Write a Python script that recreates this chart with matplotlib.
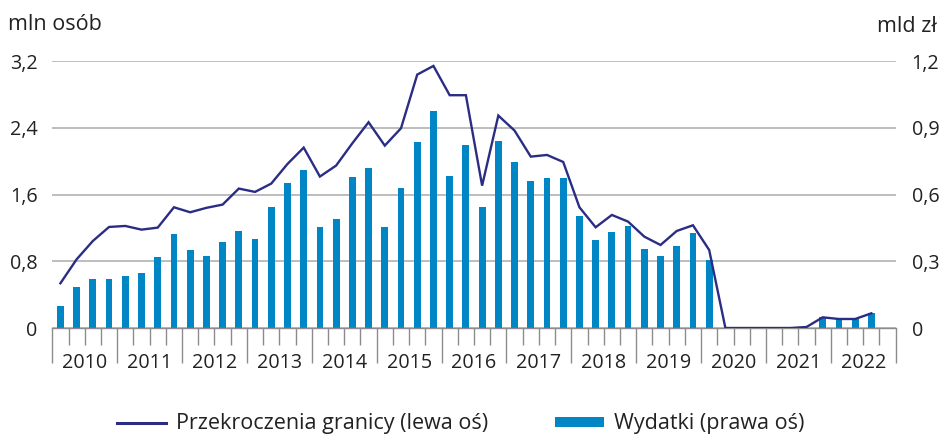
import numpy as np
import matplotlib.pyplot as plt
from matplotlib.lines import Line2D
from matplotlib.patches import Patch
from matplotlib.transforms import blended_transform_factory

plt.rcParams['font.family'] = ['Open Sans', 'DejaVu Sans']

years = [str(y) for y in range(2010, 2023)]

# quarterly, 2010 Q1 - 2022 Q3
crossings = [0.536, 0.823, 1.043, 1.211,
             1.223, 1.179, 1.203, 1.447,
             1.387, 1.440, 1.479, 1.671,
             1.631, 1.731, 1.966, 2.162,
             1.815, 1.947, 2.214, 2.466,
             2.186, 2.394, 3.037, 3.141,
             2.790, 2.790, 1.706, 2.546,
             2.366, 2.054, 2.074, 1.990,
             1.447, 1.207, 1.355, 1.275,
             1.095, 0.995, 1.163, 1.231,
             0.935, 0.0, 0.0, 0.0,
             0.0, 0.0, 0.012, 0.128,
             0.108, 0.108, 0.176]

spending = [0.099, 0.186, 0.219, 0.222,
            0.234, 0.246, 0.318, 0.421,
            0.349, 0.324, 0.385, 0.435,
            0.399, 0.542, 0.650, 0.710,
            0.452, 0.490, 0.680, 0.718,
            0.452, 0.631, 0.836, 0.975,
            0.685, 0.822, 0.545, 0.840,
            0.745, 0.661, 0.674, 0.674,
            0.502, 0.394, 0.431, 0.458,
            0.356, 0.324, 0.369, 0.428,
            0.306, 0.0, 0.0, 0.0,
            0.0, 0.0, 0.0, 0.048,
            0.040, 0.040, 0.066]

left_ticks = [0, 0.8, 1.6, 2.4, 3.2]
right_ticks = [0, 0.3, 0.6, 0.9, 1.2]

LINE_C = '#2b2d84'
BAR_C = '#0086c4'
GRID_C = '#ababab'
TXT = '#222222'
FS = 14.2
LEG_FS = 15.5

n_q = len(years) * 4
x = np.arange(len(crossings))

fig = plt.figure(figsize=(9.42, 4.34), dpi=100)
ax = fig.add_axes([52.3 / 942, 1 - 328 / 434, 843.4 / 942, 267 / 434])
ax2 = ax.twinx()

# bars on the right axis (behind), line on the left axis (front)
ax2.bar(x, spending, width=0.42, color=BAR_C, zorder=2)
ax2.set_ylim(0, 1.2)
ax2.set_yticks(right_ticks)
ax2.set_yticklabels([('%.1f' % v).replace('.', ',') if v else '0' for v in right_ticks])
ax2.grid(axis='y', color=GRID_C, linewidth=1.1)
ax2.set_axisbelow(True)
ax2.tick_params(axis='y', length=0, pad=11.5, labelsize=FS, labelcolor=TXT)

ax.plot(x, crossings, color=LINE_C, linewidth=1.7, solid_joinstyle='miter', zorder=3)
ax.set_ylim(0, 3.2)
ax.set_xlim(-0.5, n_q - 0.5)
ax.set_yticks(left_ticks)
ax.set_yticklabels([('%.1f' % v).replace('.', ',') if v else '0' for v in left_ticks])
ax.tick_params(axis='y', length=0, pad=10.5, labelsize=FS, labelcolor=TXT)
ax.set_zorder(ax2.get_zorder() + 1)
ax.patch.set_visible(False)

ax.set_xticks(np.arange(-0.5, n_q, 4))
ax.set_xticks(np.arange(-0.5, n_q, 1), minor=True)
ax.set_xticklabels([])
ax.tick_params(axis='x', which='major', length=25, width=1, color='#8c8c8c')
ax.tick_params(axis='x', which='minor', length=12, width=1, color='#8c8c8c')

for a in (ax, ax2):
    for s in ('left', 'right', 'top'):
        a.spines[s].set_visible(False)
ax.spines['bottom'].set_color('#8c8c8c')
ax.spines['bottom'].set_linewidth(1)
ax2.spines['bottom'].set_visible(False)

trans = blended_transform_factory(ax.transData, ax.transAxes)
for k, yr in enumerate(years):
    ax.text(4 * k + 1.5, -0.131, yr, transform=trans, ha='center', va='center',
            fontsize=FS, color=TXT)

fig.text(8 / 942, 1 - 24 / 434, 'mln osób', ha='left', va='center', fontsize=15.5, color=TXT)
fig.text(937 / 942, 1 - 27 / 434, 'mld zł', ha='right', va='center', fontsize=15.5, color=TXT)

handles = [Line2D([], [], color=LINE_C, linewidth=2.2),
           Patch(facecolor=BAR_C, edgecolor='none')]
labels = ['Przekroczenia granicy (lewa oś)', 'Wydatki (prawa oś)']
fig.legend(handles, labels, loc='center', bbox_to_anchor=(461 / 942, 1 - 424 / 434),
           ncol=2, frameon=False, fontsize=LEG_FS, handlelength=2.28, handleheight=0.33,
           handletextpad=0.46, columnspacing=3.1, labelcolor=TXT)

fig.savefig('out.png', dpi=100)
